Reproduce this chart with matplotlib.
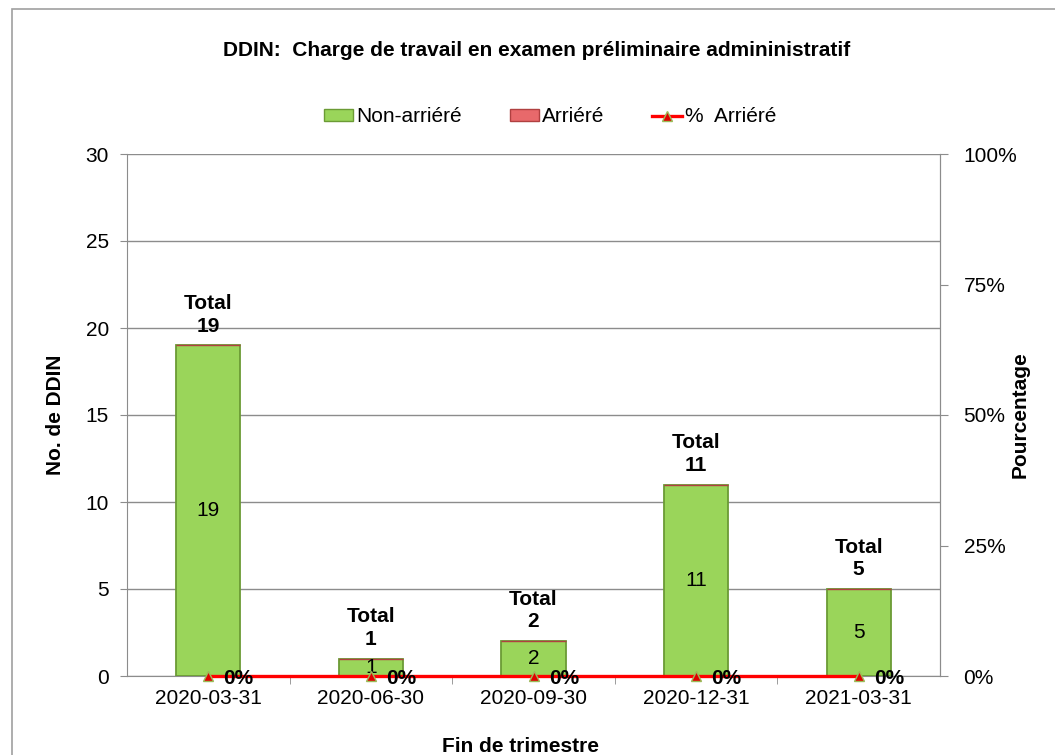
import matplotlib.pyplot as plt
from matplotlib.patches import Patch, Rectangle
from matplotlib.lines import Line2D

plt.rcParams['font.family'] = ['Liberation Sans', 'DejaVu Sans']

quarters = ['2020-03-31', '2020-06-30', '2020-09-30', '2020-12-31', '2021-03-31']
non_arriere = [19, 1, 2, 11, 5]
arriere = [0, 0, 0, 0, 0]
pct_arriere = [0, 0, 0, 0, 0]

green = '#9AD55A'
green_edge = '#6B9B35'
red_bar = '#E8696B'
grey = '#8C8C8C'
FS = 15

W, H = 1055, 755
fig = plt.figure(figsize=(W / 100, H / 100), dpi=100)
# outer chart border
fig.patches.append(Rectangle((12 / W, -0.05), 1.1, 1.05 - 9 / H, transform=fig.transFigure,
                             fill=False, edgecolor='#A0A0A0', linewidth=1.2))

left, right, top, bottom = 127, 940, 154, 676
ax = fig.add_axes([left / W, 1 - bottom / H, (right - left) / W, (bottom - top) / H])
x = list(range(len(quarters)))
totals = [a + b for a, b in zip(non_arriere, arriere)]

ax.bar(x, non_arriere, width=0.395, color=green, edgecolor=green_edge, linewidth=1.3, zorder=3)
ax.bar(x, arriere, bottom=non_arriere, width=0.395, color=red_bar, edgecolor='#B04040', zorder=3)

ax.set_xlim(-0.5, len(quarters) - 0.5)
ax.set_ylim(0, 30)
ax.set_yticks(range(0, 31, 5))
ax.yaxis.grid(True, color=grey, linewidth=1)
ax.set_axisbelow(True)
ax.set_xticks(x)
ax.set_xticklabels(quarters)
ax.set_xticks([i + 0.5 for i in x[:-1]], minor=True)
ax.tick_params(axis='x', which='major', length=0, labelsize=FS, pad=9)
ax.tick_params(axis='x', which='minor', length=6, color=grey)
ax.tick_params(axis='y', labelsize=FS, length=5, color=grey, pad=8)
ax.spines['top'].set_visible(False)
for s in ['left', 'bottom', 'right']:
    ax.spines[s].set_color(grey)

for i, (v, t) in enumerate(zip(non_arriere, totals)):
    ax.text(i, v / 2, str(v), ha='center', va='center', fontsize=FS, zorder=5)
    ax.annotate(f'Total\n{t}', (i, t), xytext=(0, 7), textcoords='offset points',
                ha='center', va='bottom', fontsize=FS, fontweight='bold',
                linespacing=1.25, zorder=5)

ax.set_ylabel('No. de DDIN', fontsize=FS, fontweight='bold')
ax.yaxis.set_label_coords((65 - left) / (right - left), 0.5)
ax.set_xlabel('Fin de trimestre', fontsize=FS, fontweight='bold')
ax.xaxis.set_label_coords((521 - left) / (right - left), -(737 - bottom) / (bottom - top))

ax2 = ax.twinx()
ax2.set_ylim(0, 100)
ax2.set_yticks([0, 25, 50, 75, 100])
ax2.set_yticklabels([f'{v}%' for v in [0, 25, 50, 75, 100]])
ax2.tick_params(axis='y', labelsize=FS, length=6, color=grey, pad=11)
for s in ['top', 'left', 'bottom']:
    ax2.spines[s].set_visible(False)
ax2.spines['right'].set_color(grey)
ax2.plot(x, pct_arriere, color='#FF0000', linewidth=2.4, marker='^', markersize=7,
         markerfacecolor='#E00000', markeredgecolor='#9BBB59', zorder=4, clip_on=False)
for i, p in enumerate(pct_arriere):
    ax2.annotate(f'{p}%', (i, p), xytext=(11, -2), textcoords='offset points',
                 ha='left', va='center', fontsize=FS, fontweight='bold',
                 annotation_clip=False, zorder=6)
ax2.set_ylabel('Pourcentage', fontsize=FS, fontweight='bold')
ax2.yaxis.set_label_coords((1011 - left) / (right - left), 0.5)

fig.text(537 / W, 1 - 51 / H, 'DDIN:  Charge de travail en examen préliminaire admininistratif',
         ha='center', va='center', fontsize=FS, fontweight='bold')

handles = [Patch(facecolor=green, edgecolor=green_edge, label='Non-arriéré'),
           Patch(facecolor=red_bar, edgecolor='#B04040', label='Arriéré'),
           Line2D([0], [0], color='#FF0000', linewidth=2.4, marker='^', markersize=7,
                  markerfacecolor='#E00000', markeredgecolor='#9BBB59', label='%  Arriéré')]
fig.legend(handles=handles, loc='center', bbox_to_anchor=(550 / W, 1 - 117 / H), ncol=3,
           frameon=False, fontsize=FS, handlelength=1.4, handleheight=0.45,
           handletextpad=0.15, columnspacing=2.3)

fig.savefig('out.png', dpi=100)
